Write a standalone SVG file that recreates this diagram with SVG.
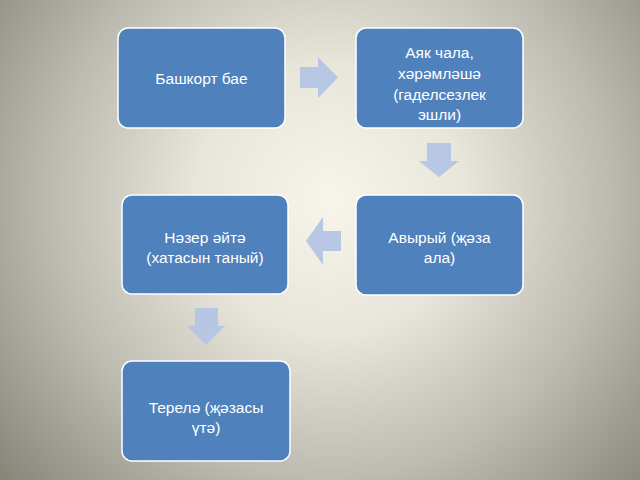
<svg xmlns="http://www.w3.org/2000/svg" width="640" height="480" viewBox="0 0 640 480">
<defs>
<radialGradient id="bg" cx="330" cy="200" r="450" gradientUnits="userSpaceOnUse">
<stop offset="0" stop-color="#f7f4eb"/>
<stop offset="0.3" stop-color="#e8e5da"/>
<stop offset="0.62" stop-color="#bcbbb1"/>
<stop offset="1" stop-color="#807f72"/>
</radialGradient>
<style>
.box{fill:#4f81bd;stroke:#ffffff;stroke-width:1.5}
.lbl{fill:#ffffff;font-family:"Liberation Sans","Noto Sans",sans-serif;font-size:15.5px;text-anchor:middle}
.arr{fill:#b4c5e4;opacity:0.95}
</style>
</defs>
<rect width="640" height="480" fill="url(#bg)"/>
<g id="connectors">
<polygon class="arr" points="300,67 318,67 318,57 338,77.5 318,98 318,88 300,88"/>
<polygon class="arr" points="427,143 451,143 451,161 459,161 439,177 419,161 427,161"/>
<polygon class="arr" points="341,231 323,231 323,217 306,241 323,265 323,251 341,251"/>
<polygon class="arr" points="195,308 218,308 218,326 225,326 206,345 187,326 195,326"/>
</g>
<g id="n1">
<rect class="box" x="118" y="28" width="167" height="100" rx="10"/>
<text class="lbl" x="201.5" y="84">Башкорт бае</text>
</g>
<g id="n2">
<rect class="box" x="356" y="28" width="167" height="100" rx="10"/>
<text class="lbl" x="439.5" y="58">Аяк чала,</text>
<text class="lbl" x="439.5" y="79">хәрәмләшә</text>
<text class="lbl" x="439.5" y="100">(гаделсезлек</text>
<text class="lbl" x="439.5" y="120">эшли)</text>
</g>
<g id="n3">
<rect class="box" x="356" y="195" width="167" height="100" rx="10"/>
<text class="lbl" x="439.5" y="243">Авырый (җәза</text>
<text class="lbl" x="439.5" y="263">ала)</text>
</g>
<g id="n4">
<rect class="box" x="122" y="195" width="166" height="99" rx="10"/>
<text class="lbl" x="205" y="243">Нәзер әйтә</text>
<text class="lbl" x="205" y="263">(хатасын таный)</text>
</g>
<g id="n5">
<rect class="box" x="122" y="361" width="168" height="100" rx="10"/>
<text class="lbl" x="206" y="413">Терелә (җәзасы</text>
<text class="lbl" x="206" y="433">үтә)</text>
</g>
</svg>
